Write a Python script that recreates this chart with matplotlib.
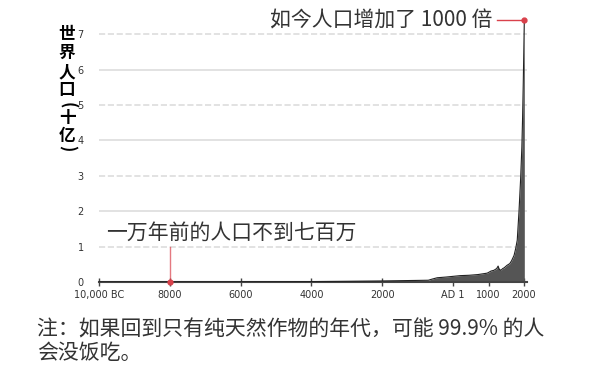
import numpy as np
import matplotlib.pyplot as plt

plt.rcParams['font.family'] = ['Noto Sans CJK SC', 'DejaVu Sans']

# world population, billions
years = [-10000, -8000, -6000, -5000, -4000, -3000, -2000, -1000, -700, -600,
         -450, -200, 1, 200, 450, 700, 960, 1000, 1070, 1150, 1230, 1270,
         1300, 1350, 1400, 1440, 1520, 1600, 1650, 1720, 1765, 1810, 1860,
         1905, 1940, 1960, 1980, 1995, 2010]
pops = [0.004, 0.005, 0.006, 0.008, 0.012, 0.02, 0.03, 0.045, 0.05, 0.08,
        0.12, 0.14, 0.16, 0.18, 0.19, 0.21, 0.25, 0.27, 0.31, 0.33, 0.38, 0.45,
        0.36, 0.33, 0.38, 0.4, 0.47, 0.52, 0.6, 0.75, 0.94, 1.18, 2.0,
        2.9, 3.8, 4.6, 5.6, 6.5, 7.4]

xticks = [-10000, -8000, -6000, -4000, -2000, 1, 1000, 2000]
xticklabels = ['10,000 BC', '8000', '6000', '4000', '2000', 'AD 1', '1000', '2000']
yticks = [0, 1, 2, 3, 4, 5, 6, 7]

red = '#d9414b'
grey = '#333333'

fig = plt.figure(figsize=(6, 3.67), dpi=100)
ax = fig.add_axes([0.165, 0.2316, 0.713, 0.7234])

for v in yticks[1:]:
    ax.axhline(v, color='#dddddd', lw=1.2, ls='--' if v % 2 else '-', zorder=0)

ax.fill_between(years, pops, color='#555555', lw=0, zorder=2)
ax.plot(years, pops, color='#222222', lw=0.8, zorder=3)

ax.set_xlim(-10000, 2080)
ax.set_ylim(0, 7.5)
ax.set_xticks(xticks)
ax.set_xticklabels(xticklabels, family='DejaVu Sans')
ax.set_yticks(yticks)
ax.set_yticklabels([str(v) for v in yticks], family='DejaVu Sans')
ax.tick_params(axis='x', direction='inout', length=6, width=1, colors='#444444',
               labelsize=7, labelcolor=grey, pad=3)
ax.tick_params(axis='y', length=0, labelsize=7, labelcolor=grey, pad=11)
for s in ['top', 'right', 'left']:
    ax.spines[s].set_visible(False)
ax.spines['bottom'].set_color('#444444')
ax.spines['bottom'].set_linewidth(1.5)

# annotation: 8000 BC
ax.plot([-8000, -8000], [0, 1.0], color=red, lw=1, alpha=0.7, zorder=4)
ax.plot([-8000], [0], 'o', color=red, ms=3.5, zorder=5, clip_on=False)
ax.text(-9790, 1.08, '一万年前的人口不到七百万', fontsize=15, color=grey,
        va='bottom', ha='left')

# annotation: today
ax.plot([1235, years[-1]], [pops[-1], pops[-1]], color=red, lw=1, zorder=4,
        clip_on=False)
ax.plot([years[-1]], [pops[-1]], 'o', color=red, ms=3.5, zorder=5, clip_on=False)
ax.text(1120, pops[-1], '如今人口增加了 1000 倍', fontsize=15, color=grey,
        va='center', ha='right')

# vertical y label (brackets turned to read top-down)
ylab = ['世', '界', '人', '口', '(', '十', '亿', ')']
ypix = [34, 53, 72, 90, 105, 118, 136, 148]
for ch, yp in zip(ylab, ypix):
    rot = -90 if ch in '()' else 0
    fig.text(67 / 600, 1 - yp / 367, ch, fontsize=12, fontweight='bold',
             color='black', ha='center', va='center', rotation=rot)

fig.text(37 / 600, 1 - 329 / 367, '注：如果回到只有纯天然作物的年代，可能 99.9% 的人',
         fontsize=15, color=grey, ha='left', va='center')
fig.text(37 / 600, 1 - 353 / 367, '会没饭吃。',
         fontsize=15, color=grey, ha='left', va='center')

fig.savefig('out.png', dpi=100)
